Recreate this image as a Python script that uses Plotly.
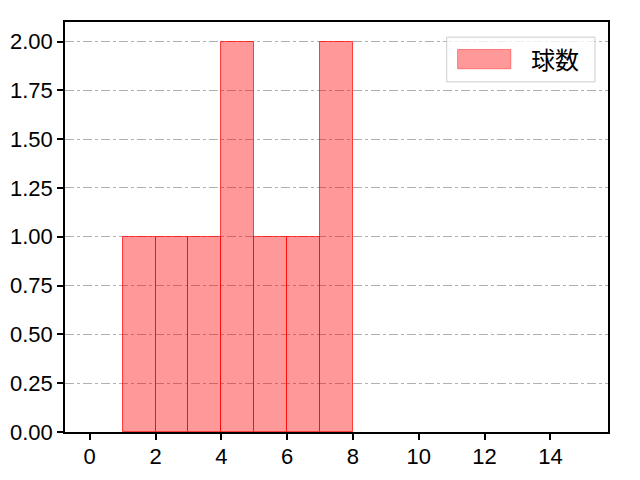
import plotly.graph_objects as go

# histogram bins (left edge) and counts
bin_left = [1, 2, 3, 4, 5, 6, 7]
counts = [1, 1, 1, 2, 1, 1, 2]
series_name = "球数"

x_ticks = [0, 2, 4, 6, 8, 10, 12, 14]
y_ticks = [0, 0.25, 0.5, 0.75, 1.0, 1.25, 1.5, 1.75, 2.0]

fig = go.Figure()

fig.add_trace(go.Bar(
    x=bin_left,
    y=counts,
    width=1,
    offset=0,
    name=series_name,
    marker=dict(color="rgba(255,0,0,0.4)", line=dict(color="rgba(255,0,0,0.7)", width=1)),
    showlegend=False,
))

axis_common = dict(
    showline=True, linecolor="black", linewidth=1.5, mirror=True,
    ticks="outside", ticklen=6, tickwidth=1.5, tickcolor="black",
    zeroline=False, automargin=False,
    tickfont=dict(family="Liberation Sans", size=22, color="black"),
)

# legend drawn by hand so the patch is a wide rectangle like matplotlib
fig.add_shape(type="rect", xref="paper", yref="paper",
              x0=0.703, x1=0.976, y0=0.854, y1=0.963,
              line=dict(color="#cccccc", width=1), fillcolor="rgba(255,255,255,0.8)")
fig.add_shape(type="rect", xref="paper", yref="paper",
              x0=0.723, x1=0.821, y0=0.886, y1=0.933,
              line=dict(color="rgba(255,0,0,0.4)", width=1), fillcolor="rgba(255,0,0,0.4)")
fig.add_annotation(text=series_name, xref="paper", yref="paper",
                   x=0.855, y=0.91, xanchor="left", yanchor="middle", showarrow=False,
                   font=dict(family="Noto Sans CJK JP", size=24, color="black"))

# page body has an 8px margin, so the plot area is shifted accordingly
fig.update_layout(
    width=640, height=480,
    margin=dict(l=57, r=40, t=14, b=56),
    plot_bgcolor="white", paper_bgcolor="white",
    font=dict(family="Liberation Sans, Noto Sans CJK JP", size=22, color="black"),
    bargap=0,
    xaxis=dict(range=[-0.75, 15.75], tickvals=x_ticks, showgrid=False,
               ticklabelstandoff=-2, **axis_common),
    yaxis=dict(range=[0, 2.1], tickvals=y_ticks, tickformat=".2f",
               showgrid=True, gridcolor="#b0b0b0", griddash="dashdot", gridwidth=1,
               **axis_common),
)

fig.write_html("out.html")
